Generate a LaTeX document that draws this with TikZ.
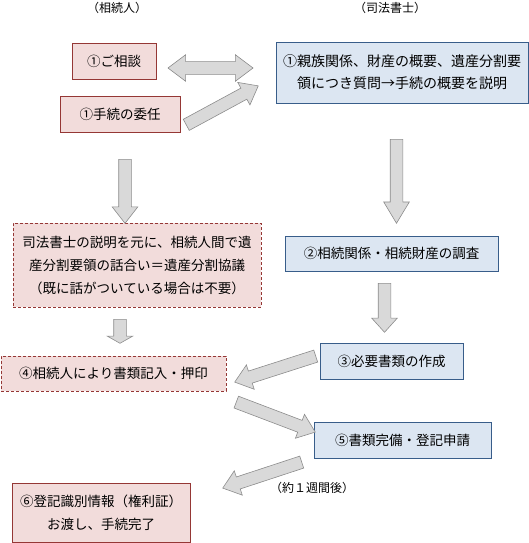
\documentclass[tikz,border=0pt]{standalone}
\usepackage{fontspec}
\setmainfont{Noto Sans CJK JP}
\usetikzlibrary{shapes.arrows,calc}

\definecolor{pinkfill}{HTML}{F2DCDB}
\definecolor{pinkline}{HTML}{953735}
\definecolor{bluefill}{HTML}{DCE6F2}
\definecolor{blueline}{HTML}{385D8A}
\definecolor{arrowfill}{HTML}{D9D9D9}
\definecolor{arrowline}{HTML}{8C8C8C}

% block arrow from one coordinate to another
\newcommand{\blockarrow}[3][]{%
  \path let \p1=($(#3)-(#2)$), \n1={atan2(\y1,\x1)}, \n2={veclen(\x1,\y1)} in
    node[arrowblock, minimum height=\n2, rotate=\n1, anchor=tail, #1] at (#2) {};}

\begin{document}
\begin{tikzpicture}[
    x=1pt, y=-1pt,
    boxtext/.style={font=\fontsize{13.5pt}{23pt}\selectfont, align=center, inner sep=0pt},
    pinkbox/.style={rectangle, draw=pinkline, fill=pinkfill, line width=0.9pt, boxtext},
    pinkdash/.style={pinkbox, dash pattern=on 3pt off 2pt},
    bluebox/.style={rectangle, draw=blueline, fill=bluefill, line width=0.9pt, boxtext},
    headtext/.style={font=\fontsize{12pt}{14pt}\selectfont, inner sep=0pt},
    arrowblock/.style={single arrow, draw=arrowline, fill=arrowfill, line width=0.6pt,
      inner xsep=0pt, inner ysep=6pt, minimum width=25pt, single arrow head extend=6.5pt,
      single arrow tip angle=76},
    twoarrow/.style={double arrow, draw=arrowline, fill=arrowfill, line width=0.6pt,
      inner xsep=0pt, inner ysep=6pt, minimum width=26pt, double arrow head extend=7pt,
      double arrow tip angle=74}
]
    \useasboundingbox (0,0) rectangle (529,543);

    % Column headings
    \node[headtext] (heir) at (117,8) {（相続人）};
    \node[headtext] (scrivener) at (390,8) {（司法書士）};

    % Heir side
    \node[pinkbox, minimum width=84pt, minimum height=36pt] (soudan) at (114,61) {①ご相談};
    \node[pinkbox, minimum width=120pt, minimum height=36pt] (inin) at (120,114) {①手続の委任};
    \node[pinkdash, minimum width=248pt, minimum height=84pt] (kyogi) at (137,265)
      {司法書士の説明を元に、相続人間で遺\\産分割要領の話合い＝遺産分割協議\\（既に話がついている場合は不要）};
    \node[pinkdash, minimum width=225pt, minimum height=35pt] (kinyu) at (113.5,373.5) {④相続人により書類記入・押印};
    \node[pinkbox, minimum width=178pt, minimum height=59pt] (kanryo) at (101,512.5)
      {⑥登記識別情報（権利証）\\お渡し、手続完了};

    % Scrivener side
    \node[bluebox, minimum width=252pt, minimum height=61pt, font=\fontsize{14pt}{22pt}\selectfont] (setsumei) at (402,72.5)
      {①親族関係、財産の概要、遺産分割要\\領につき質問→手続の概要を説明};
    \node[bluebox, minimum width=213pt, minimum height=35pt] (chosa) at (391.5,253.5) {②相続関係・相続財産の調査};
    \node[bluebox, minimum width=143pt, minimum height=36pt] (sakusei) at (391.5,361) {③必要書類の作成};
    \node[bluebox, minimum width=177pt, minimum height=36pt] (shinsei) at (402.5,440) {⑤書類完備・登記申請};

    \node[headtext] (week) at (312,488) {（約１週間後）};

    % Arrow ends
    \coordinate (soudan-r) at (168,68);
    \coordinate (setsumei-l) at (253,68);
    \coordinate (inin-r) at (186,125);
    \coordinate (setsumei-bl) at (258,86);
    \coordinate (inin-b) at (125,159);
    \coordinate (kyogi-t) at (125,223);
    \coordinate (setsumei-b) at (396.5,139);
    \coordinate (chosa-t) at (396.5,223);
    \coordinate (chosa-b) at (384.5,283);
    \coordinate (sakusei-t) at (384.5,332);
    \coordinate (kyogi-b) at (120,319);
    \coordinate (kinyu-t) at (120,343);
    \coordinate (sakusei-l) at (316,356);
    \coordinate (kinyu-r) at (235,382);
    \coordinate (kinyu-br) at (236,402);
    \coordinate (shinsei-l) at (315,432);
    \coordinate (shinsei-bl) at (302,462);
    \coordinate (kanryo-tr) at (223,488);

    % Block arrows
    \node[twoarrow, minimum height=85pt] (talk) at ($(soudan-r)!0.5!(setsumei-l)$) {};
    \blockarrow{inin-r}{setsumei-bl}
    \blockarrow{inin-b}{kyogi-t}
    \blockarrow[single arrow tip angle=62]{setsumei-b}{chosa-t}
    \blockarrow[single arrow tip angle=84]{chosa-b}{sakusei-t}
    \blockarrow[single arrow tip angle=121]{kyogi-b}{kinyu-t}
    \blockarrow{sakusei-l}{kinyu-r}
    \blockarrow{kinyu-br}{shinsei-l}
    \blockarrow{shinsei-bl}{kanryo-tr}

\end{tikzpicture}
\end{document}
